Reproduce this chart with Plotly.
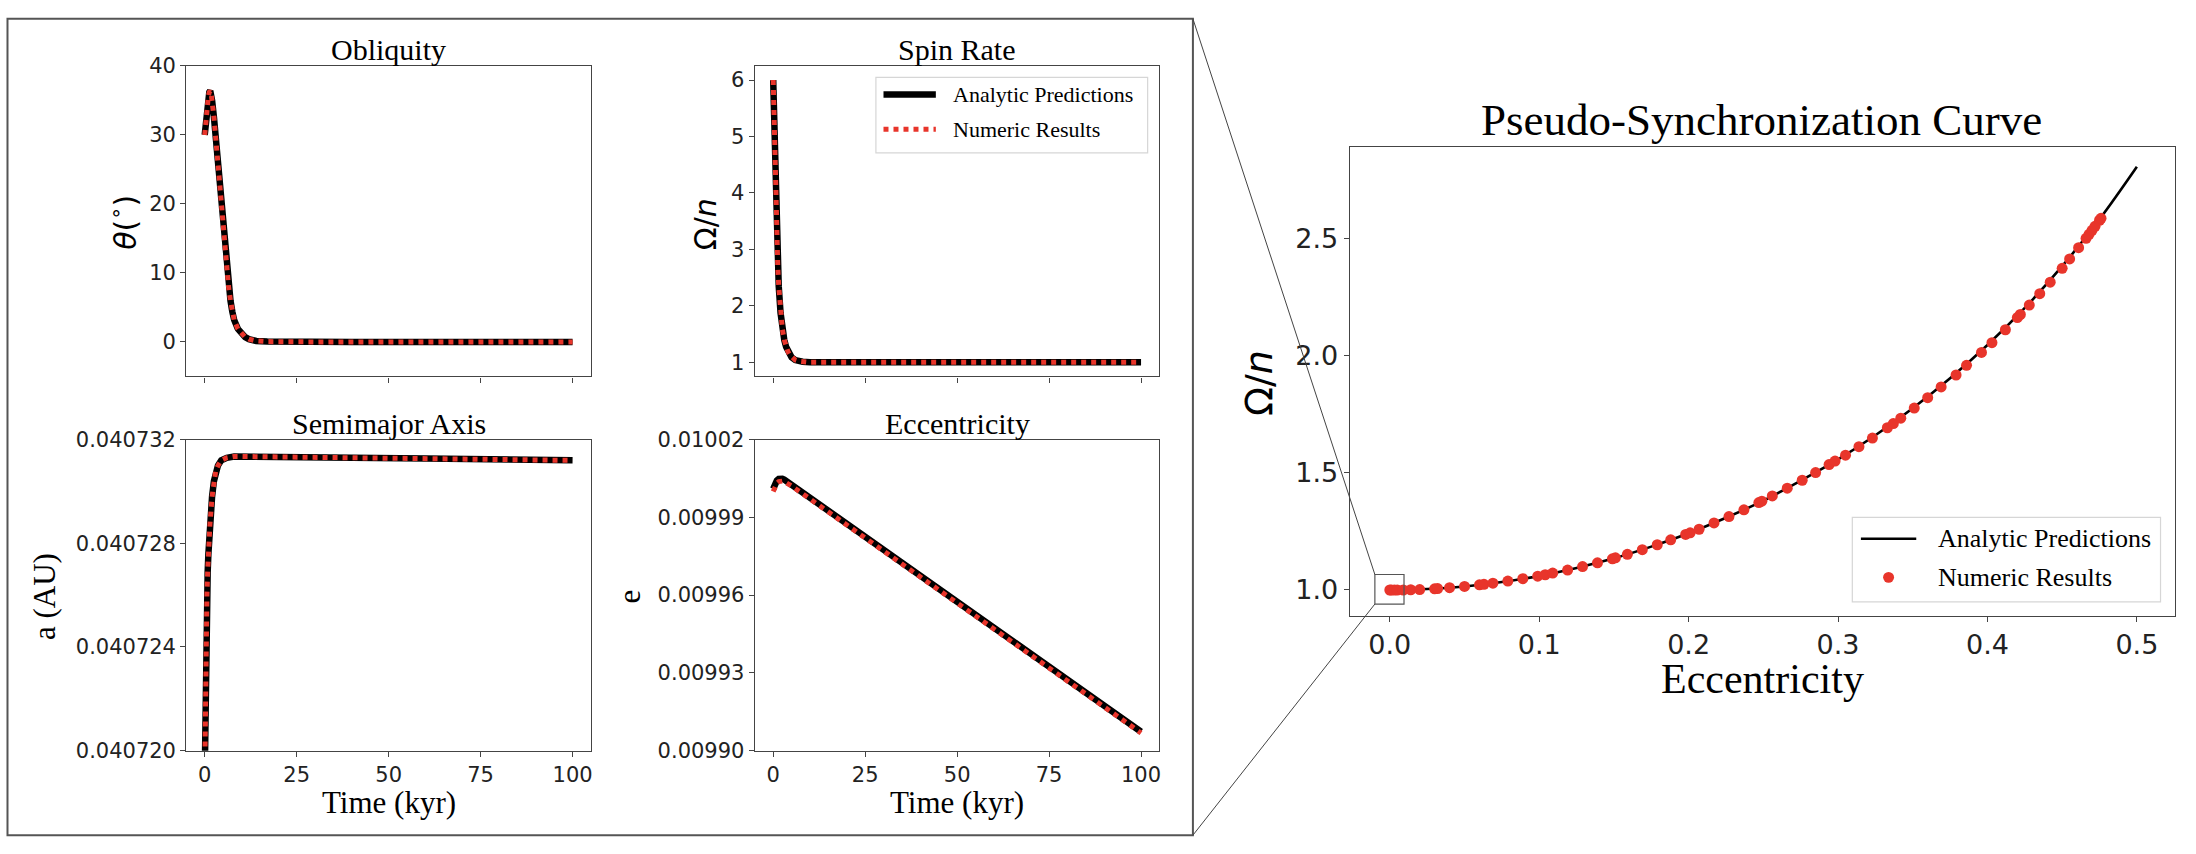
import plotly.graph_objects as go

# canvas size in pixels; margins are zero so paper coords == pixels / size
W, H = 2196, 854

RED = '#e8352b'
SERIF = 'Liberation Serif'
SANS = 'DejaVu Sans'

# ---- data ----
obl_time = [0, 0.25, 0.5, 0.75, 1.0, 1.25, 1.5, 1.75, 2.0, 2.5, 3.0, 3.5, 4.0, 4.5,
            5.0, 5.5, 6.0, 6.5, 7.0, 7.5, 8.0, 9.0, 10, 11, 12, 14, 17, 20, 30,
            40, 50, 60, 70, 80, 90, 100]
obl_deg = [30.0, 31.8, 33.4, 34.7, 35.7, 36.2, 36.4, 36.0, 35.0, 32.6, 29.5, 26.1,
           22.8, 19.7, 16.5, 13.3, 10.4, 7.9, 6.0, 4.4, 3.2, 1.9, 1.2, 0.7, 0.4,
           0.15, 0.05, 0.02, 0, 0, 0, 0, 0, 0, 0, 0]

spin_time = [0, 0.25, 0.5, 0.75, 1.0, 1.25, 1.5, 2.0, 2.5, 3.0, 3.5, 4.0, 4.5, 5.0,
             6.0, 7.0, 8.0, 10, 15, 20, 40, 60, 80, 100]
spin_rate = [6.0, 5.15, 4.4, 3.65, 3.1, 2.68, 2.35, 1.875, 1.58, 1.40, 1.275, 1.19,
             1.13, 1.09, 1.04, 1.02, 1.01, 1.0, 1.0, 1.0, 1.0, 1.0, 1.0, 1.0]

semi_time = [0, 0.1, 0.2, 0.3, 0.45, 0.6, 0.8, 1.0, 1.4, 2.0, 2.5, 3.0, 3.6, 4.5,
             6.0, 8.0, 10, 20, 40, 60, 80, 100]
semi_au = [0.0407190, 0.0407212, 0.0407227, 0.0407238, 0.0407250, 0.0407260,
           0.0407269, 0.0407276, 0.0407287, 0.0407298, 0.0407304, 0.0407308,
           0.0407310, 0.0407312, 0.0407313, 0.04073135, 0.04073135, 0.04073133,
           0.04073130, 0.04073127, 0.04073124, 0.0407312]

ecc_time = [0, 0.5, 1.0, 1.5, 2.0, 2.5, 3.0, 4.0, 5.0, 10, 25, 50, 75, 100]
ecc_analytic = [0.0100010, 0.0100030, 0.0100042, 0.0100048, 0.0100050, 0.0100049,
                0.0100046, 0.0100036, 0.0100026, 0.0099976, 0.0099826, 0.0099576,
                0.0099325, 0.0099073]
ecc_numeric = [0.0100000, 0.0100020, 0.0100032, 0.0100038, 0.0100040, 0.0100040,
               0.0100038, 0.0100030, 0.0100021, 0.0099971, 0.0099821, 0.0099570,
               0.0099319, 0.0099068]

psc_e = [0.0, 0.025, 0.05, 0.075, 0.1, 0.125, 0.15, 0.175, 0.2, 0.225, 0.25, 0.275,
         0.3, 0.325, 0.35, 0.375, 0.4, 0.425, 0.45, 0.475, 0.5]
psc_rate = [1.000, 1.004, 1.015, 1.034, 1.060, 1.094, 1.135, 1.185, 1.242, 1.308,
            1.381, 1.466, 1.557, 1.660, 1.775, 1.903, 2.045, 2.203, 2.381, 2.581, 2.805]

num_e = [0.000, 0.001, 0.003, 0.005, 0.009, 0.014, 0.020, 0.030, 0.032, 0.040, 0.050,
         0.060, 0.063, 0.069, 0.079, 0.089, 0.099, 0.104, 0.109, 0.119, 0.129, 0.139,
         0.149, 0.151, 0.159, 0.169, 0.179, 0.188, 0.198, 0.201, 0.207, 0.217, 0.227,
         0.237, 0.247, 0.249, 0.256, 0.266, 0.276, 0.285, 0.294, 0.298, 0.305, 0.314,
         0.323, 0.333, 0.337, 0.342, 0.351, 0.360, 0.369, 0.379, 0.386, 0.396, 0.403,
         0.412, 0.420, 0.422, 0.428, 0.435, 0.442, 0.450, 0.455, 0.461, 0.466, 0.468,
         0.470, 0.472, 0.475, 0.476]
num_rate = [1.000, 1.000, 1.000, 1.000, 1.000, 1.001, 1.002, 1.005, 1.006, 1.010, 1.015,
            1.022, 1.024, 1.029, 1.038, 1.048, 1.059, 1.065, 1.072, 1.085, 1.100, 1.116,
            1.133, 1.137, 1.152, 1.172, 1.193, 1.214, 1.237, 1.244, 1.259, 1.286, 1.313,
            1.342, 1.373, 1.379, 1.401, 1.434, 1.468, 1.501, 1.535, 1.550, 1.575, 1.611,
            1.648, 1.692, 1.710, 1.733, 1.776, 1.820, 1.866, 1.917, 1.958, 2.013, 2.055,
            2.110, 2.162, 2.175, 2.215, 2.264, 2.313, 2.372, 2.412, 2.460, 2.500, 2.517,
            2.534, 2.551, 2.577, 2.585]

time_ticks = [0, 25, 50, 75, 100]
obl_ticks = [0, 10, 20, 30, 40]
spin_ticks = [1, 2, 3, 4, 5, 6]
semi_ticks = [0.040720, 0.040724, 0.040728, 0.040732]
ecc_ticks = [0.00990, 0.00993, 0.00996, 0.00999, 0.01002]
psc_xticks = [0.0, 0.1, 0.2, 0.3, 0.4, 0.5]
psc_yticks = [1.0, 1.5, 2.0, 2.5]

legend_names = ['Analytic Predictions', 'Numeric Results']


def px(x):
    return x / W


def py(y):
    return 1 - y / H


# panel boxes in pixels: left, top, right, bottom
panels = {
    'obl': (186.5, 55.5, 591.5, 375),
    'spin': (755.5, 55.5, 1160.5, 375),
    'semi': (186.5, 440, 591.5, 760),
    'ecc': (755.5, 440, 1160.5, 760),
    'psc': (1351, 139, 2176.5, 621),
}


def axis_style(box, axis, anchor, rng, ticks, fmt=None, labels=True, size=21):
    if axis == 'x':
        dom = [px(box[0]), px(box[2])]
    else:
        dom = [py(box[3]), py(box[1])]
    d = dict(domain=dom, anchor=anchor, range=rng, tickmode='array', tickvals=ticks,
             showticklabels=labels, showline=True, mirror=True, linecolor='#444',
             linewidth=1.3, ticks='outside', ticklen=5, tickwidth=1.2,
             tickcolor='#444', showgrid=False, zeroline=False,
             tickfont=dict(family=SANS, size=size, color='#222'))
    if fmt:
        d['tickformat'] = fmt
    return d


fig = go.Figure()

AN_LINE = dict(color='black', width=6.5)
NUM_LINE = dict(color=RED, width=5, dash='5px,5px')


def add_pair(xs, ys_an, ys_num, xa, ya):
    fig.add_trace(go.Scatter(x=xs, y=ys_an, mode='lines', xaxis=xa, yaxis=ya,
                             line=AN_LINE, name=legend_names[0], showlegend=False))
    fig.add_trace(go.Scatter(x=xs, y=ys_num, mode='lines', xaxis=xa, yaxis=ya,
                             line=NUM_LINE, name=legend_names[1], showlegend=False))


add_pair(obl_time, obl_deg, obl_deg, 'x', 'y')
add_pair(spin_time, spin_rate, spin_rate, 'x2', 'y2')
add_pair(semi_time, semi_au, semi_au, 'x3', 'y3')
add_pair(ecc_time, ecc_analytic, ecc_numeric, 'x4', 'y4')

fig.add_trace(go.Scatter(x=psc_e, y=psc_rate, mode='lines', xaxis='x5', yaxis='y5',
                         line=dict(color='black', width=2.6, shape='spline'),
                         name=legend_names[0], showlegend=False))
fig.add_trace(go.Scatter(x=num_e, y=num_rate, mode='markers', xaxis='x5', yaxis='y5',
                         marker=dict(color=RED, size=11),
                         name=legend_names[1], showlegend=False))

t_range = [-5, 105]
psc_xr = [-0.0268, 0.5252]
psc_yr = [0.891, 2.889]

fig.update_layout(
    width=W, height=H,
    margin=dict(l=0, r=0, t=0, b=0),
    paper_bgcolor='white', plot_bgcolor='white',
    showlegend=False,
    xaxis=axis_style(panels['obl'], 'x', 'y', t_range, time_ticks, labels=False),
    yaxis=axis_style(panels['obl'], 'y', 'x', [-5, 40], obl_ticks),
    xaxis2=axis_style(panels['spin'], 'x', 'y2', t_range, time_ticks, labels=False),
    yaxis2=axis_style(panels['spin'], 'y', 'x2', [0.75, 6.25], spin_ticks),
    xaxis3=axis_style(panels['semi'], 'x', 'y3', t_range, time_ticks),
    yaxis3=axis_style(panels['semi'], 'y', 'x3', [0.040720, 0.040732], semi_ticks, '.6f'),
    xaxis4=axis_style(panels['ecc'], 'x', 'y4', t_range, time_ticks),
    yaxis4=axis_style(panels['ecc'], 'y', 'x4', [0.00990, 0.01002], ecc_ticks, '.5f'),
    xaxis5=axis_style(panels['psc'], 'x', 'y5', psc_xr, psc_xticks, '.1f', size=27),
    yaxis5=axis_style(panels['psc'], 'y', 'x5', psc_yr, psc_yticks, '.1f', size=27),
)


def note(text, x, y, size, family=SERIF, angle=0, xanchor='center'):
    fig.add_annotation(text=text, x=px(x), y=py(y), xref='paper', yref='paper',
                       showarrow=False, textangle=angle, xanchor=xanchor,
                       yanchor='middle', font=dict(family=family, size=size, color='black'))


def paper_rect(l, t, r, b, **kw):
    fig.add_shape(type='rect', xref='paper', yref='paper',
                  x0=px(l), y0=py(b), x1=px(r), y1=py(t), **kw)


def paper_line(x0, y0, x1, y1, line):
    fig.add_shape(type='line', xref='paper', yref='paper',
                  x0=px(x0), y0=py(y0), x1=px(x1), y1=py(y1), line=line)


# panel titles (text centre, pixels)
for key, title, ty in [('obl', 'Obliquity', 38.5), ('spin', 'Spin Rate', 38.5),
                       ('semi', 'Semimajor Axis', 423), ('ecc', 'Eccentricity', 423)]:
    b = panels[key]
    note(title, (b[0] + b[2]) / 2, ty, 30)
note('Pseudo-Synchronization Curve', 1763, 111, 45)

# axis labels
note('Time (kyr)', 389, 813, 31)
note('Time (kyr)', 958, 813, 31)
note('<i>θ</i>(<sup>∘</sup>)', 124, 216, 30, family=SANS, angle=-90)
note('Ω/<i>n</i>', 707, 218, 30, family=SANS, angle=-90)
note('a (AU)', 44, 601, 31, angle=-90)
note('e', 630, 601, 31, angle=-90)
note('Eccentricity', 1764, 686, 42)
note('Ω/<i>n</i>', 1260, 382, 38, family=SANS, angle=-90)

# legend of the time-series panels (inside Spin Rate)
paper_rect(876.7, 67.3, 1148.7, 145, line=dict(color='#d6d6d6', width=1.2),
           fillcolor='rgba(255,255,255,0.8)')
paper_line(884.3, 85, 936.7, 85, AN_LINE)
paper_line(884.3, 120.7, 936.7, 120.7, NUM_LINE)
note(legend_names[0], 951.7, 85, 22, xanchor='left')
note(legend_names[1], 951.7, 120.7, 22, xanchor='left')

# legend of the pseudo-synchronization panel
paper_rect(1854, 520, 2162.5, 607, line=dict(color='#d6d6d6', width=1.2),
           fillcolor='rgba(255,255,255,0.8)')
paper_line(1862.6, 542, 1918, 542, dict(color='black', width=2.6))
fig.add_shape(type='circle', xref='paper', yref='paper',
              x0=px(1890.3 - 5.5), x1=px(1890.3 + 5.5),
              y0=py(581.7 + 5.5), y1=py(581.7 - 5.5),
              fillcolor=RED, line=dict(width=0))
note(legend_names[0], 1938, 542, 26, xanchor='left')
note(legend_names[1], 1938, 581.7, 26, xanchor='left')

# frame around the left figure and the zoom box with its connector lines
box_l, box_t, box_r, box_b = 7.5, 7, 1194, 847
paper_rect(box_l, box_t, box_r, box_b, line=dict(color='#555', width=2))

zoom_x = [-0.01, 0.0095]
zoom_y = [0.94, 1.066]
fig.add_shape(type='rect', xref='x5', yref='y5',
              x0=zoom_x[0], x1=zoom_x[1], y0=zoom_y[0], y1=zoom_y[1],
              line=dict(color='#555', width=1.2))

xd = fig.layout.xaxis5.domain
yd = fig.layout.yaxis5.domain


def to_paper(v, dom, rng):
    return dom[0] + (v - rng[0]) / (rng[1] - rng[0]) * (dom[1] - dom[0])


zx0 = to_paper(zoom_x[0], xd, psc_xr)
zy_top = to_paper(zoom_y[1], yd, psc_yr)
zy_bot = to_paper(zoom_y[0], yd, psc_yr)
fig.add_shape(type='line', xref='paper', yref='paper',
              x0=px(box_r), y0=py(box_t), x1=zx0, y1=zy_top,
              line=dict(color='#444', width=1))
fig.add_shape(type='line', xref='paper', yref='paper',
              x0=px(box_r), y0=py(box_b), x1=zx0, y1=zy_bot,
              line=dict(color='#444', width=1))

fig.write_html("out.html", config={'displayModeBar': False},
               post_script="document.body.style.margin='0';")
